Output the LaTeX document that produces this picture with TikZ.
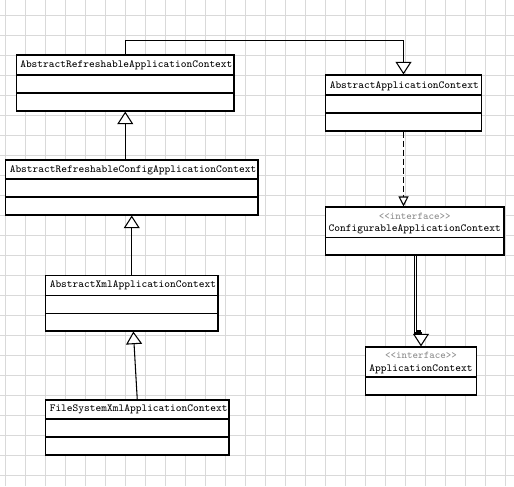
\documentclass[tikz,border=0pt]{standalone}
\usepackage{fontspec}
\usetikzlibrary{arrows.meta,fit}
\begin{document}
\begin{tikzpicture}[x=0.75pt,y=-0.75pt,
  gridline/.style={draw=black!15, line width=0.75pt},
  umlbox/.style={draw=black, fill=white, line width=0.8pt, inner sep=0pt},
  divider/.style={draw=black, line width=0.8pt},
  cname/.style={font=\fontsize{8.1}{9}\selectfont\ttfamily, inner sep=0pt, anchor=west},
  stereo/.style={font=\fontsize{7.8}{9}\selectfont\ttfamily, text=black!45, inner sep=0pt},
  inh/.style={draw=black, line width=0.8pt, -{Triangle[width=12pt,length=9.5pt,fill=white]}},
  smalltip/.style={-{Triangle[width=7.5pt,length=7.5pt,fill=white]}},
  dashline/.style={dash pattern=on 4.5pt off 2.25pt}
]
% background and bounds
\fill[white] (0,0) rectangle (514,486);
\useasboundingbox (0,0) rectangle (514,486);
% grid
\foreach \gx in {5,25,...,505} { \draw[gridline] (\gx,0) -- (\gx,486); }
\foreach \gy in {15,35,...,475} { \draw[gridline] (0,\gy) -- (514,\gy); }

% boxes
\path (16.5,55) coordinate (a1) (234,111) coordinate (a2);
\node[umlbox, fit=(a1)(a2)] (arac) {};
\path (5.5,160) coordinate (b1) (258,215) coordinate (b2);
\node[umlbox, fit=(b1)(b2)] (arcac) {};
\path (325.5,75) coordinate (c1) (481.5,131) coordinate (c2);
\node[umlbox, fit=(c1)(c2)] (aac) {};
\path (325.5,207) coordinate (d1) (504,255) coordinate (d2);
\node[umlbox, fit=(d1)(d2)] (cac) {};
\path (365.5,347) coordinate (e1) (476.5,395) coordinate (e2);
\node[umlbox, fit=(e1)(e2)] (ac) {};
\path (45.5,275.5) coordinate (f1) (218,331) coordinate (f2);
\node[umlbox, fit=(f1)(f2)] (axac) {};
\path (45.5,400) coordinate (g1) (229,455) coordinate (g2);
\node[umlbox, fit=(g1)(g2)] (fsxac) {};

% dividers
\draw[divider] (arac.west |- 0,75) -- (arac.east |- 0,75);
\draw[divider] (arac.west |- 0,93) -- (arac.east |- 0,93);
\draw[divider] (arcac.west |- 0,179) -- (arcac.east |- 0,179);
\draw[divider] (arcac.west |- 0,197) -- (arcac.east |- 0,197);
\draw[divider] (aac.west |- 0,95) -- (aac.east |- 0,95);
\draw[divider] (aac.west |- 0,113) -- (aac.east |- 0,113);
\draw[divider] (cac.west |- 0,237.5) -- (cac.east |- 0,237.5);
\draw[divider] (ac.west |- 0,377) -- (ac.east |- 0,377);
\draw[divider] (axac.west |- 0,295.5) -- (axac.east |- 0,295.5);
\draw[divider] (axac.west |- 0,313.5) -- (axac.east |- 0,313.5);
\draw[divider] (fsxac.west |- 0,419) -- (fsxac.east |- 0,419);
\draw[divider] (fsxac.west |- 0,437) -- (fsxac.east |- 0,437);

% texts
\node[cname] (t1) at (20,65.5) {AbstractRefreshableApplicationContext};
\node[cname] (t2) at (9.5,170) {AbstractRefreshableConfigApplicationContext};
\node[cname] (t3) at (329.5,86) {AbstractApplicationContext};
\node[stereo] (s4) at (cac.north |- 0,216) {<\kern0pt<interface>\kern0pt>};
\node[cname, anchor=center] (t4) at (cac.north |- 0,229.5) {ConfigurableApplicationContext};
\node[stereo] (s5) at (ac.north |- 0,355.5) {<\kern0pt<interface>\kern0pt>};
\node[cname, anchor=center] (t5) at (ac.north |- 0,369) {ApplicationContext};
\node[cname] (t6) at (49.5,285.5) {AbstractXmlApplicationContext};
\node[cname] (t7) at (49.5,409) {FileSystemXmlApplicationContext};

% connectors
\draw[inh] (arac.north) -- (arac.north |- 0,40.5) -| (aac.north);
\draw[inh] (arac.south |- arcac.north) -- (arac.south);
\draw[inh] (axac.north) -- (arcac.south);
\draw[inh] (fsxac.north) -- ([xshift=1.2pt]axac.south);
\draw[inh, smalltip, dashline] (aac.south) -- (aac.south |- cac.north);
\draw[inh] (cac.south) -- (cac.south |- 0,333) -| (ac.north);
\draw[line width=0.8pt] ([xshift=1.5pt]cac.south) -- ([xshift=1.5pt]cac.south |- 0,331) -- (ac.north |- 0,331);
\end{tikzpicture}
\end{document}
